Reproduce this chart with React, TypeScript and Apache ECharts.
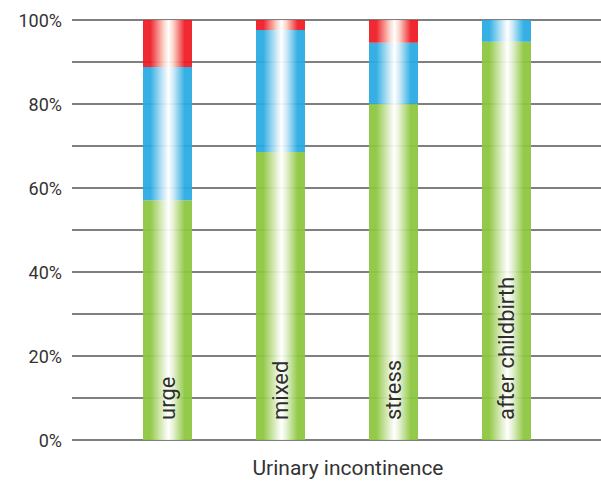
import React, { useEffect, useRef } from "react";
import * as echarts from "echarts";

const categories = ["urge", "mixed", "stress", "after childbirth"];
const greenValues = [57.1, 68.6, 80.0, 94.8];
const blueValues = [31.7, 29.0, 14.6, 5.2];
const redValues = [11.2, 2.4, 5.4, 0];
const yTicks = [0, 20, 40, 60, 80, 100];
const xTitle = "Urinary incontinence";

function grad(c: string, light: string) {
  return new echarts.graphic.LinearGradient(0, 0, 1, 0, [
    { offset: 0, color: c },
    { offset: 0.15, color: c },
    { offset: 0.42, color: light },
    { offset: 0.52, color: "#ffffff" },
    { offset: 0.62, color: light },
    { offset: 0.85, color: c },
    { offset: 1, color: c },
  ]);
}

export default function App() {
  const ref = useRef<HTMLDivElement>(null);
  useEffect(() => {
    if (!ref.current) return;
    const chart = echarts.init(ref.current, undefined, { renderer: "svg" });
    const common = {
      type: "bar" as const,
      stack: "total",
      barWidth: 49,
      silent: true,
      xAxisIndex: 1,
      yAxisIndex: 1,
    };
    chart.setOption({
      animation: false,
      grid: [
        { left: 72, right: 0, top: 20, bottom: 44 },
        { left: 111, right: 38, top: 20, bottom: 44 },
      ],
      xAxis: [
        {
          gridIndex: 0,
          type: "value",
          min: 0,
          max: 1,
          show: false,
        },
        {
          gridIndex: 1,
          type: "category",
          data: categories,
          axisLine: { show: false },
          axisTick: { show: false },
          axisLabel: { show: false },
          splitLine: { show: false },
        },
      ],
      yAxis: [
        {
          gridIndex: 0,
          type: "value",
          min: 0,
          max: 100,
          interval: 10,
          axisLine: { show: false },
          axisTick: { show: false },
          axisLabel: {
            margin: 10,
            fontSize: 18,
            color: "#333",
            fontFamily: "Roboto",
            formatter: (v: number) => (yTicks.includes(v) ? v + "%" : ""),
          },
          splitLine: { show: true, lineStyle: { color: "#555", width: 1.5 } },
        },
        {
          gridIndex: 1,
          type: "value",
          min: 0,
          max: 100,
          show: false,
          splitLine: { show: false },
        },
      ],
      graphic: [
        {
          type: "text",
          x: 348,
          y: 468,
          style: {
            text: xTitle,
            fontSize: 21,
            fontFamily: "Roboto",
            fill: "#333",
            align: "center",
            verticalAlign: "middle",
          },
        },
      ],
      series: [
        {
          ...common,
          name: "green",
          data: greenValues,
          itemStyle: { color: grad("#8dc63f", "#e3f0cf"), opacity: 0.94 },
          label: {
            show: true,
            position: "insideBottom",
            distance: 20,
            rotate: 90,
            align: "left",
            verticalAlign: "middle",
            fontSize: 22,
            fontFamily: "Roboto",
            color: "#222",
            formatter: (p: any) => categories[p.dataIndex],
          },
        },
        {
          ...common,
          name: "blue",
          data: blueValues,
          itemStyle: { color: grad("#29abe2", "#cbe9f7"), opacity: 0.94 },
        },
        {
          ...common,
          name: "red",
          data: redValues,
          itemStyle: { color: grad("#ee1c25", "#fbd0c4"), opacity: 0.94 },
        },
      ],
    });
    return () => chart.dispose();
  }, []);
  return <div ref={ref} style={{ width: 601, height: 484, position: "absolute", left: 0, top: 0 }} />;
}
